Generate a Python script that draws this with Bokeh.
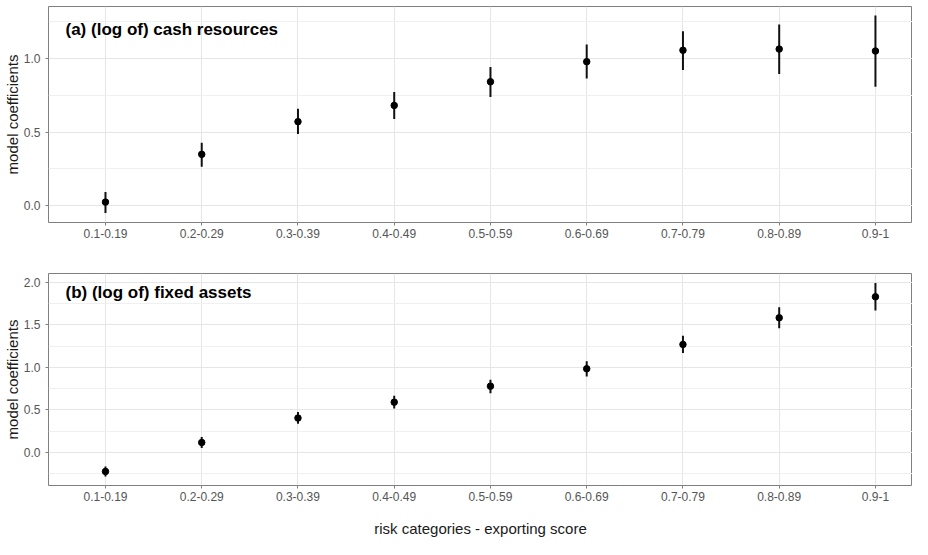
from bokeh.plotting import figure
from bokeh.models import Range1d, FixedTicker, PrintfTickFormatter, Label, ColumnDataSource
from bokeh.layouts import column
from bokeh.embed import file_html
from bokeh.resources import INLINE

categories = ["0.1-0.19", "0.2-0.29", "0.3-0.39", "0.4-0.49", "0.5-0.59",
              "0.6-0.69", "0.7-0.79", "0.8-0.89", "0.9-1"]

cash_est = [0.026, 0.349, 0.570, 0.680, 0.840, 0.976, 1.053, 1.061, 1.048]
cash_lo = [-0.048, 0.265, 0.487, 0.588, 0.737, 0.862, 0.919, 0.893, 0.807]
cash_hi = [0.094, 0.428, 0.658, 0.770, 0.939, 1.092, 1.181, 1.228, 1.288]

fixed_est = [-0.225, 0.116, 0.404, 0.591, 0.779, 0.984, 1.270, 1.584, 1.831]
fixed_lo = [-0.285, 0.052, 0.337, 0.517, 0.697, 0.894, 1.169, 1.461, 1.670]
fixed_hi = [-0.165, 0.180, 0.475, 0.666, 0.854, 1.071, 1.371, 1.708, 1.992]

cash_ticks = [0.0, 0.5, 1.0]
cash_minor = [0.25, 0.75, 1.25]
fixed_ticks = [0.0, 0.5, 1.0, 1.5, 2.0]
fixed_minor = [-0.25, 0.25, 0.75, 1.25, 1.75]

titles = ["(a) (log of) cash resources", "(b) (log of) fixed assets"]
y_title = "model coefficients"
x_title = "risk categories - exporting score"

FONT = "Liberation Sans"

# category positions on the discrete scale (1..n)
xpos = [i + 1 for i in range(len(categories))]
x_overrides = {x: c for x, c in zip(xpos, categories)}


def make_panel(est, lo, hi, yr, ticks, minor, title, height, top, bottom, show_xtitle):
    p = figure(width=912, height=height, output_backend="svg", toolbar_location=None,
               x_range=Range1d(0.408, 9.385),
               y_range=Range1d(*yr),
               min_border_left=48, min_border_right=0, min_border_top=top,
               min_border_bottom=bottom)
    p.background_fill_color = "white"
    p.border_fill_color = "white"
    p.outline_line_color = "#7f7f7f"
    p.outline_line_width = 1

    src = ColumnDataSource(dict(x=xpos, est=est, lo=lo, hi=hi))
    p.segment(x0="x", y0="lo", x1="x", y1="hi", source=src,
              line_color="#111111", line_width=2)
    p.scatter(x="x", y="est", source=src, size=6.5, color="black")

    p.xaxis.ticker = FixedTicker(ticks=xpos, minor_ticks=[])
    p.xaxis.major_label_overrides = x_overrides
    p.yaxis.ticker = FixedTicker(ticks=ticks, minor_ticks=minor)
    p.yaxis.formatter = PrintfTickFormatter(format="%.1f")
    for ax in (p.xaxis[0], p.yaxis[0]):
        ax.axis_line_color = None
        ax.major_tick_line_color = "#7f7f7f"
        ax.major_tick_out = 3
        ax.major_tick_in = 0
        ax.minor_tick_line_color = None
        ax.major_label_text_font = FONT
        ax.major_label_text_font_size = "12px"
        ax.major_label_text_color = "#555555"
        ax.axis_label_text_font = FONT
        ax.axis_label_text_font_size = "15px"
        ax.axis_label_text_font_style = "normal"
        ax.axis_label_text_color = "#1a1a1a"
    p.yaxis.major_label_standoff = 4
    p.yaxis.axis_label = y_title
    p.yaxis.axis_label_standoff = 0
    p.xaxis.major_label_standoff = 3
    if show_xtitle:
        p.xaxis.axis_label = x_title
        p.xaxis.axis_label_standoff = 16

    p.xgrid.grid_line_color = "#e6e6e6"
    p.xgrid.grid_line_width = 1
    p.ygrid.grid_line_color = "#e6e6e6"
    p.ygrid.grid_line_width = 1
    p.ygrid.minor_grid_line_color = "#f0f0f0"
    p.ygrid.minor_grid_line_width = 1

    lab = Label(x=17, y=193, x_units="screen", y_units="screen", text=title,
                text_font=FONT, text_font_size="17px", text_font_style="bold",
                text_color="black", text_baseline="middle")
    p.add_layout(lab)
    return p


p1 = make_panel(cash_est, cash_lo, cash_hi, (-0.112, 1.349), cash_ticks, cash_minor,
                titles[0], 251, 6, 29, False)
p2 = make_panel(fixed_est, fixed_lo, fixed_hi, (-0.39, 2.105), fixed_ticks, fixed_minor,
                titles[1], 288, 22, 50, True)

layout = column(p1, p2, spacing=0)
open("out.html", "w").write(file_html(layout, INLINE))
